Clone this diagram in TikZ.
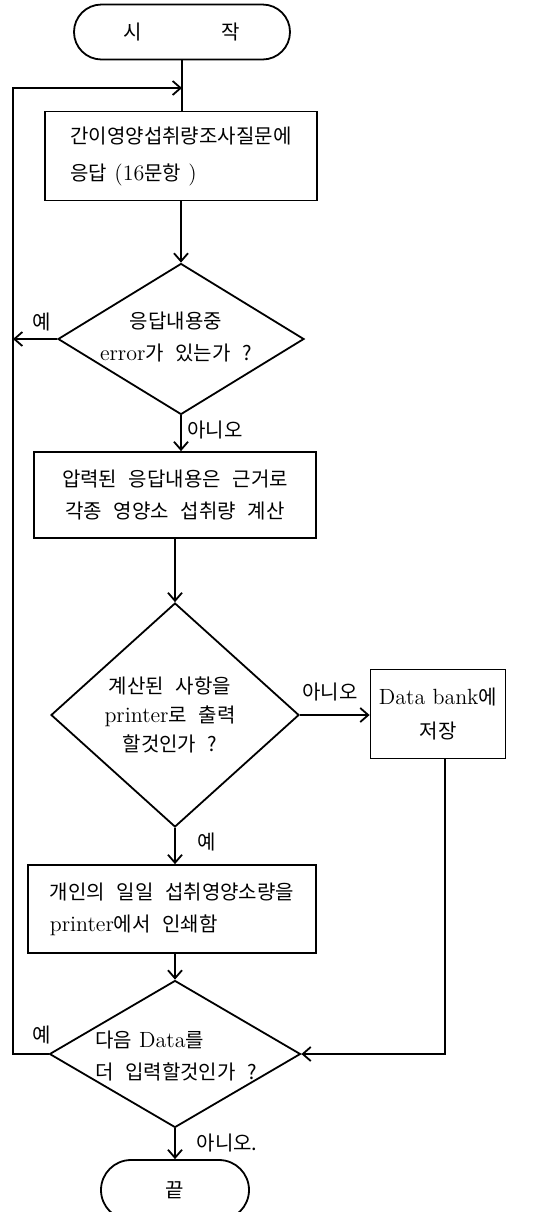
\documentclass[tikz,border=0pt]{standalone}
\usepackage{fontspec}
\newfontfamily\kr[Scale=0.91,WordSpace=2.6]{Noto Sans CJK KR}
\usetikzlibrary{shapes.geometric,shapes.misc,arrows.meta}
\begin{document}
\begin{tikzpicture}[x=0.5pt,y=-0.5pt,
  every node/.style={font=\fontsize{11}{16}\selectfont},
  box/.style={draw,line width=0.9pt,rectangle,inner sep=0pt},
  dia/.style={draw,line width=0.9pt,diamond,inner sep=0pt},
  term/.style={draw,line width=0.9pt,rounded rectangle,inner sep=0pt},
  conn/.style={line width=0.9pt,-{Straight Barb[length=4pt,width=7pt]}},
  plain/.style={line width=0.9pt},
  lbl/.style={font=\kr\fontsize{11}{12}\selectfont}
]
\useasboundingbox (0,0) rectangle (550,1212);
\begin{scope}
\clip (0,0) rectangle (550,1212);
% nodes
\node[term,minimum width=108pt,minimum height=27.5pt] (start) at (182,32) {{\kr 시}\hspace{40pt}{\kr 작}};
\node[box,minimum width=136pt,minimum height=44.5pt,align=left,font=\fontsize{11}{18.5}\selectfont] (box1) at (181,156)
  {{\kr 간이영양섭취량조사질문에}\\{\kr 응답} (16{\kr 문항} )};
\node[dia,minimum width=123pt,minimum height=75.5pt] (d1) at (181,339) {};
\node[align=center] (d1t) at (176,337) {{\kr 응답내용중}\\error{\kr 가 있는가 ?}};
\node[box,minimum width=141pt,minimum height=43pt,align=center] (box2) at (175,495)
  {{\kr 압력된 응답내용은 근거로}\\{\kr 각종 영양소 섭취량 계산}};
\node[dia,minimum width=124pt,minimum height=112pt] (d2) at (175,715) {};
\node[align=center,font=\fontsize{11}{14.5}\selectfont] (d2t) at (170,715)
  {{\kr 계산된 사항을}\\printer{\kr 로 출력}\\{\kr 할것인가 ?}};
\node[box,minimum width=67.5pt,minimum height=44.5pt,align=center,font=\fontsize{11}{17}\selectfont] (box3) at (438,714)
  {Data bank{\kr 에}\\{\kr 저장}};
\node[box,minimum width=144pt,minimum height=44pt,align=left] (box4) at (172,909)
  {{\kr 개인의 일일 섭취영양소량을}\\printer{\kr 에서 인쇄함}};
\node[dia,minimum width=125.5pt,minimum height=73.5pt] (d3) at (175,1054) {};
\node[align=left] (d3t) at (176,1056) {{\kr 다음} Data{\kr 를}\\{\kr 더 입력할것인가 ?}};
\node[term,minimum width=74pt,minimum height=30pt] (end) at (175,1190) {{\kr 끝}};
% labels
\node[lbl] (l1) at (42,322) {예};
\node[lbl] (l2) at (215,430) {아니오};
\node[lbl] (l3) at (330,692) {아니오};
\node[lbl] (l4) at (207,842) {예};
\node[lbl] (l5) at (42,1035) {예};
\node[lbl] (l6) at (227,1143) {아니오.};
% coordinates
\coordinate (j1) at (182,88);
\coordinate (lt) at (13,88);
\coordinate (r) at (445,1054);
% connectors
\draw[plain] (start.south) -- (start.south |- box1.north);
\draw[conn] (d3.west) -- (d3.west -| lt) -- (lt) -- (j1);
\draw[conn] (box1.south) -- (box1.south |- d1.north);
\draw[conn] (d1.west) -- (d1.west -| lt);
\draw[conn] (d1.south) -- (d1.south |- box2.north);
\draw[conn] (box2.south) -- (box2.south -| d2.north) -- (d2.north);
\draw[conn] (d2.east) -- (d2.east -| box3.west);
\draw[conn] (d2.south) -- (d2.south |- box4.north);
\draw[conn] (d3.north |- box4.south) -- (d3.north);
\draw[conn] (box3.south -| r) -- (r) -- (d3.east);
\draw[conn] (d3.south) -- (end.north);
\end{scope}
\end{tikzpicture}
\end{document}
